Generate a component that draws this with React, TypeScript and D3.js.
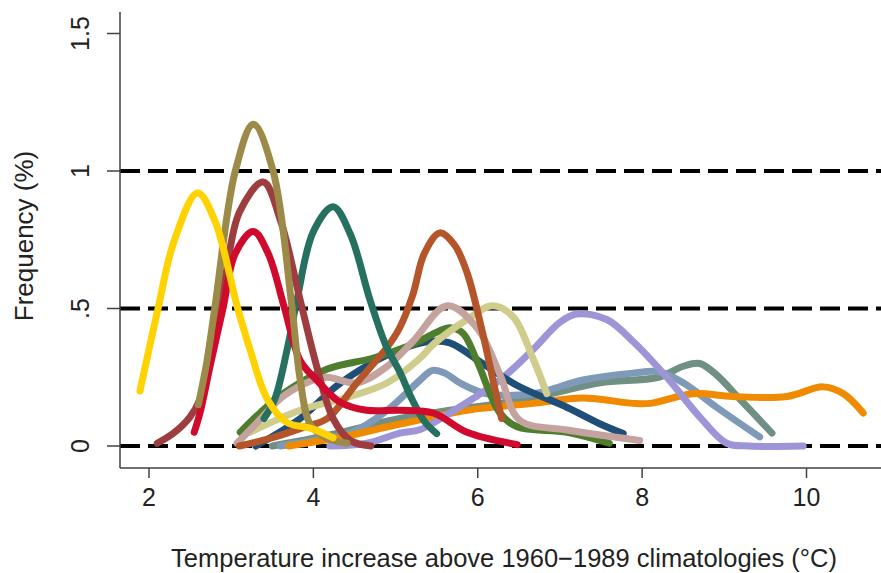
import React from "react";
import * as d3 from "d3";

// temperature increase (deg C) vs frequency (%)
const yellow = [[1.89, 0.2], [2.11, 0.5], [2.3, 0.74], [2.59, 0.92], [2.8, 0.82], [3.08, 0.5], [3.23, 0.35], [3.44, 0.17], [3.68, 0.085], [3.96, 0.065], [4.24, 0.03]];
const olive = [[2.6, 0.15], [2.7, 0.3], [2.8, 0.5], [3.05, 1.0], [3.27, 1.17], [3.51, 1.0], [3.73, 0.53], [3.84, 0.24], [3.96, 0.08], [4.15, 0.03], [4.41, 0.01]];
const maroon = [[2.1, 0.01], [2.3, 0.047], [2.5, 0.106], [2.62, 0.17], [2.75, 0.35], [2.92, 0.6], [3.1, 0.85], [3.39, 0.96], [3.6, 0.82], [3.84, 0.53], [4.04, 0.29], [4.24, 0.1], [4.45, 0.02], [4.7, 0.0]];
const crimson = [[2.55, 0.05], [2.62, 0.12], [2.75, 0.3], [2.9, 0.5], [3.05, 0.7], [3.27, 0.78], [3.45, 0.7], [3.65, 0.5], [3.84, 0.31], [4.04, 0.24], [4.32, 0.16], [4.65, 0.13], [5.05, 0.13], [5.46, 0.12], [5.87, 0.05], [6.48, 0.005]];
const teal = [[3.4, 0.1], [3.53, 0.17], [3.68, 0.35], [3.8, 0.53], [4.0, 0.78], [4.24, 0.87], [4.45, 0.77], [4.69, 0.53], [4.89, 0.36], [5.05, 0.27], [5.2, 0.17], [5.35, 0.09], [5.5, 0.045]];
const sienna = [[3.1, 0.0], [3.5, 0.03], [3.9, 0.07], [4.17, 0.1], [4.53, 0.23], [4.9, 0.36], [5.05, 0.43], [5.21, 0.55], [5.35, 0.7], [5.54, 0.775], [5.72, 0.73], [5.87, 0.63], [6.06, 0.41], [6.2, 0.22], [6.29, 0.1]];
const navy = [[3.3, 0.0], [3.84, 0.1], [4.29, 0.22], [4.7, 0.3], [5.05, 0.35], [5.4, 0.38], [5.66, 0.375], [6.06, 0.3], [6.48, 0.22], [7.09, 0.14], [7.49, 0.08], [7.77, 0.045]];
const green = [[3.11, 0.05], [3.35, 0.12], [3.63, 0.19], [4.17, 0.28], [4.73, 0.32], [5.21, 0.37], [5.66, 0.43], [5.82, 0.41], [5.99, 0.31], [6.27, 0.12], [6.48, 0.07], [7.09, 0.05], [7.6, 0.01]];
const khaki = [[3.23, 0.05], [3.84, 0.13], [4.45, 0.18], [4.9, 0.23], [5.3, 0.32], [5.46, 0.37], [5.87, 0.46], [6.18, 0.51], [6.43, 0.47], [6.67, 0.32], [6.84, 0.19]];
const rose = [[3.07, 0.01], [3.3, 0.08], [3.63, 0.18], [4.0, 0.24], [4.17, 0.25], [4.53, 0.23], [4.9, 0.29], [5.21, 0.38], [5.63, 0.51], [5.99, 0.43], [6.27, 0.26], [6.51, 0.094], [7.09, 0.058], [7.97, 0.02]];
const steel = [[3.6, 0.0], [4.0, 0.02], [4.45, 0.047], [4.9, 0.13], [5.3, 0.24], [5.45, 0.275], [5.6, 0.265], [5.78, 0.23], [6.11, 0.19], [6.67, 0.19], [7.28, 0.24], [7.89, 0.265], [8.2, 0.27], [8.5, 0.23], [8.91, 0.14], [9.43, 0.033]];
const grayGreen = [[3.5, 0.0], [4.2, 0.04], [5.05, 0.1], [5.66, 0.13], [6.27, 0.155], [6.88, 0.19], [7.49, 0.23], [8.2, 0.25], [8.5, 0.29], [8.7, 0.3], [8.9, 0.26], [9.19, 0.17], [9.58, 0.047]];
const orange = [[3.7, 0.0], [4.36, 0.033], [4.9, 0.07], [5.3, 0.095], [5.87, 0.13], [6.67, 0.155], [7.28, 0.175], [7.89, 0.155], [8.1, 0.155], [8.62, 0.19], [9.1, 0.18], [9.76, 0.18], [10.2, 0.215], [10.45, 0.19], [10.69, 0.12]];
const lavender = [[4.2, 0.0], [4.65, 0.01], [5.05, 0.047], [5.3, 0.06], [5.66, 0.12], [6.27, 0.24], [6.67, 0.35], [7.0, 0.45], [7.2, 0.48], [7.57, 0.46], [7.89, 0.38], [8.3, 0.25], [8.7, 0.106], [9.03, 0.01], [9.3, 0.0], [9.96, 0.0]];

const xTicks = [2, 4, 6, 8, 10];
const yTicks = [0, 0.5, 1, 1.5];
const yTickLabels = ["0", ".5", "1", "1.5"];
const refLines = [0, 0.5, 1];

// draw order, bottom first
const series = [grayGreen, steel, orange, lavender, navy, green, khaki, rose, sienna, teal, maroon, crimson, olive, yellow];
const colors = ["#6f9083", "#7e9ab8", "#f08a00", "#9d95d8", "#1f4e79", "#4e7d2e", "#cfcc8c", "#c4a39e", "#b5562a", "#25705f", "#9e3d3f", "#cf0a2c", "#9c8b48", "#ffd200"];

const W = 881;
const H = 573;
const FONT = "'Liberation Sans', Arial, sans-serif";

export default function App() {
  // plot area
  const left = 120, right = 881, top = 12, bottom = 468;

  const x = d3.scaleLinear().domain([2, 10]).range([149, 806.5]);
  const y = d3.scaleLinear().domain([0, 1]).range([446, 171]);

  const line = d3.line<number[]>()
    .x(d => x(d[0]))
    .y(d => y(d[1]))
    .curve(d3.curveCatmullRom.alpha(0.5));

  return (
    <svg width={W} height={H} style={{ position: "absolute", left: 0, top: 0, background: "#fff" }}>
      {/* dashed reference lines */}
      {refLines.map(v => (
        <line key={"r" + v} x1={left} x2={right} y1={y(v)} y2={y(v)}
          stroke="#000" strokeWidth={4} strokeDasharray="20 8" />
      ))}

      {/* density curves */}
      {series.map((s, i) => (
        <path key={i} d={line(s) || ""} fill="none" stroke={colors[i]}
          strokeWidth={7} strokeLinecap="round" strokeLinejoin="round" />
      ))}

      {/* axes */}
      <line x1={left} x2={left} y1={top} y2={bottom} stroke="#404040" strokeWidth={1.5} />
      <line x1={left} x2={right} y1={bottom} y2={bottom} stroke="#404040" strokeWidth={1.5} />

      {yTicks.map((t, i) => (
        <g key={"y" + t}>
          <line x1={left - 13} x2={left} y1={y(t)} y2={y(t)} stroke="#404040" strokeWidth={1.5} />
          <text transform={`translate(89,${y(t)}) rotate(-90)`} textAnchor="middle"
            fontFamily={FONT} fontSize={25} fill="#222">{yTickLabels[i]}</text>
        </g>
      ))}

      {xTicks.map(t => (
        <g key={"x" + t}>
          <line x1={x(t)} x2={x(t)} y1={bottom} y2={bottom + 10} stroke="#404040" strokeWidth={1.5} />
          <text x={x(t)} y={506} textAnchor="middle" fontFamily={FONT} fontSize={25} fill="#222">{t}</text>
        </g>
      ))}

      <text transform="translate(33,236) rotate(-90)" textAnchor="middle"
        fontFamily={FONT} fontSize={26} fill="#222">Frequency (%)</text>
      <text x={504} y={567} textAnchor="middle" fontFamily={FONT} fontSize={25.5} fill="#222">
        Temperature increase above 1960−1989 climatologies (°C)
      </text>
    </svg>
  );
}
